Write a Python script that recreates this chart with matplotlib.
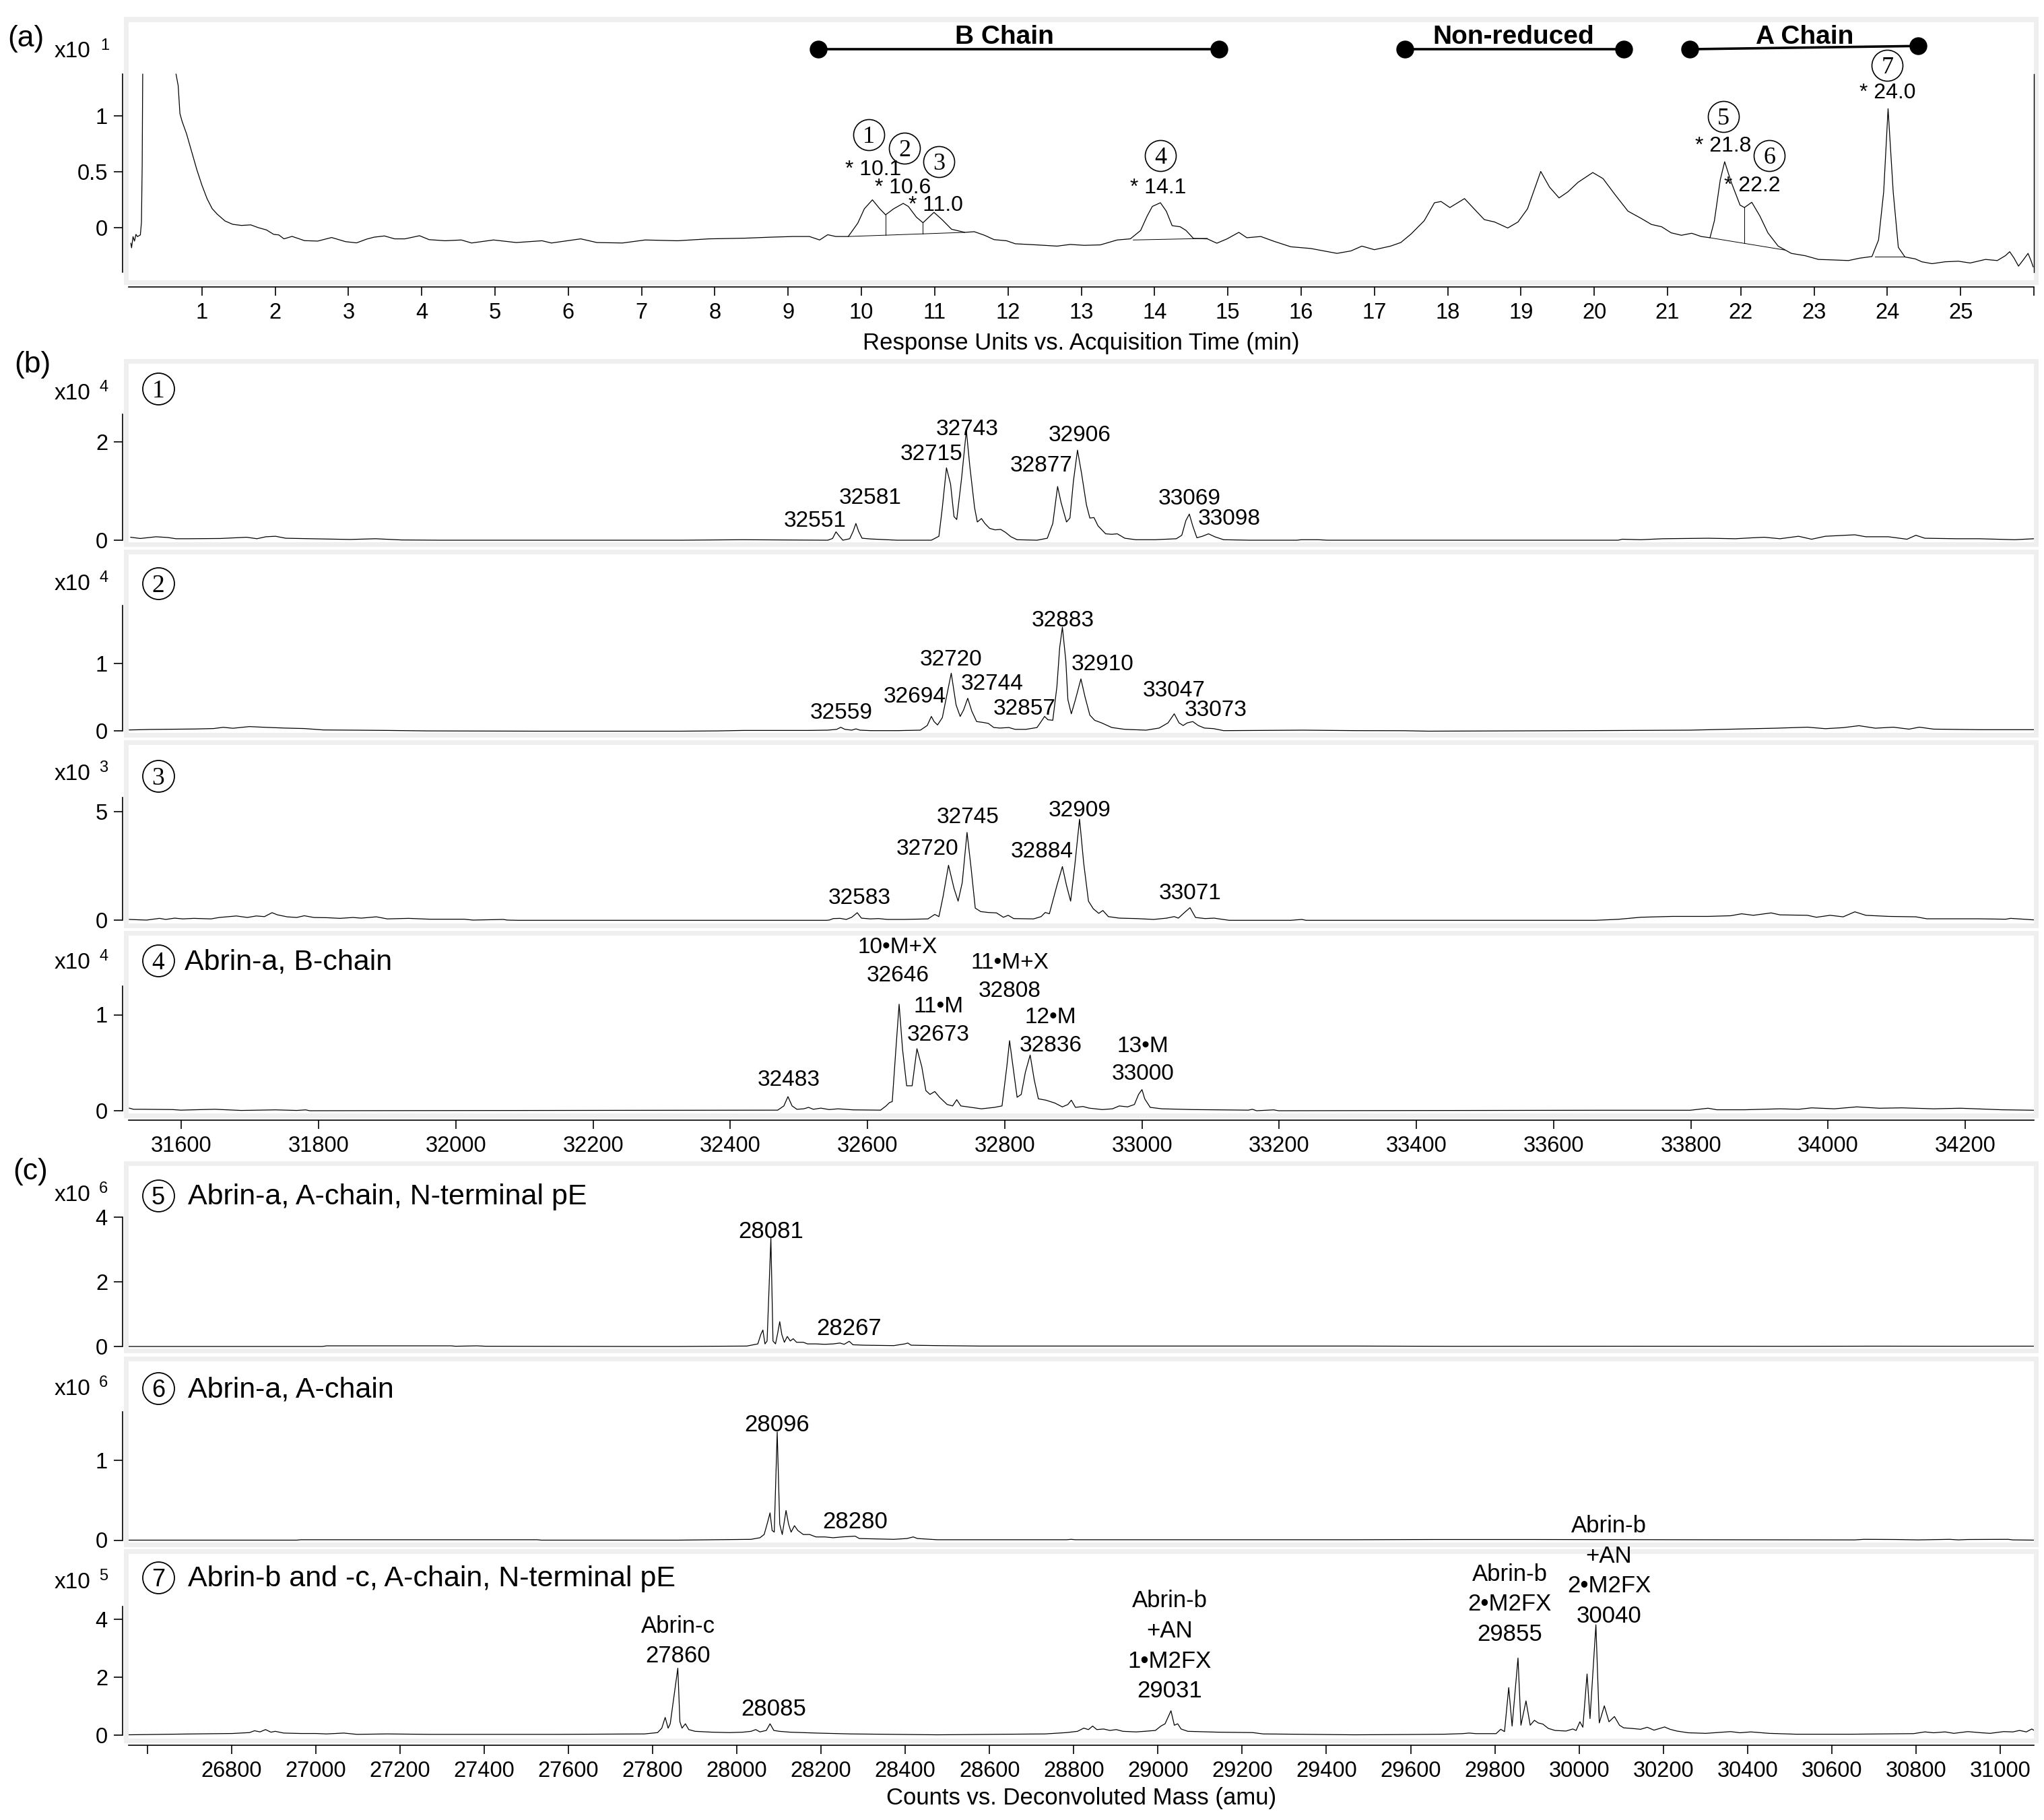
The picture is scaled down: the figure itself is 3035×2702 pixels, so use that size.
import numpy as np
import matplotlib.pyplot as plt
from matplotlib.patches import Rectangle
from matplotlib.lines import Line2D

plt.rcParams['font.family'] = ['Liberation Sans', 'DejaVu Sans']

# ---------------- values ----------------
# (a) chromatogram: (acquisition time [min], response [x10^1]); the solvent front is cut at the display top
CHROM_TOP = 1.373
CHROM = [(0.03, -0.14), (0.04, -0.18), (0.06, -0.08), (0.08, -0.12), (0.10, -0.06), (0.12, -0.08),
         (0.16, -0.065), (0.175, 0.05), (0.185, 0.56), (0.192, 1.373), (0.647, 1.373), (0.676, 1.27),
         (0.70, 1.02), (0.73, 0.95), (0.79, 0.84), (0.86, 0.68), (0.93, 0.52), (1.00, 0.38),
         (1.07, 0.26), (1.14, 0.17), (1.21, 0.12), (1.315, 0.06), (1.42, 0.03), (1.54, 0.02),
         (1.667, 0.025), (1.77, 0.0), (1.88, -0.02), (1.98, -0.06), (2.05, -0.065), (2.12, -0.10),
         (2.23, -0.078), (2.40, -0.116), (2.58, -0.12), (2.77, -0.088), (2.96, -0.125), (3.11, -0.136),
         (3.25, -0.102), (3.35, -0.085), (3.49, -0.074), (3.63, -0.10), (3.77, -0.10), (3.97, -0.072),
         (4.10, -0.107), (4.32, -0.117), (4.54, -0.11), (4.68, -0.137), (4.98, -0.11), (5.29, -0.133),
         (5.64, -0.117), (5.77, -0.137), (6.17, -0.10), (6.39, -0.133), (6.74, -0.137), (7.05, -0.11),
         (7.49, -0.117), (7.92, -0.10), (8.41, -0.094), (8.76, -0.085), (9.07, -0.079), (9.29, -0.079),
         (9.43, -0.11), (9.54, -0.063), (9.65, -0.079), (9.82, -0.079), (9.95, 0.04), (10.04, 0.169),
         (10.15, 0.249), (10.25, 0.169), (10.33, 0.115), (10.44, 0.169), (10.57, 0.217), (10.64, 0.19),
         (10.75, 0.094), (10.84, 0.044), (10.99, 0.137), (11.10, 0.072), (11.23, -0.014), (11.41, -0.042),
         (11.54, -0.036), (11.68, -0.068), (11.81, -0.107), (11.98, -0.117), (12.10, -0.144), (12.39, -0.154),
         (12.67, -0.165), (12.85, -0.15), (13.04, -0.158), (13.26, -0.154), (13.49, -0.11), (13.67, -0.10),
         (13.81, -0.025), (13.90, 0.105), (13.97, 0.19), (14.08, 0.223), (14.16, 0.148), (14.24, 0.018),
         (14.35, 0.008), (14.43, -0.025), (14.53, -0.096), (14.72, -0.10), (14.85, -0.139), (14.99, -0.10),
         (15.15, -0.042), (15.26, -0.09), (15.45, -0.079), (15.63, -0.122), (15.86, -0.171), (16.13, -0.186),
         (16.31, -0.208), (16.49, -0.23), (16.68, -0.208), (16.83, -0.165), (17.00, -0.197), (17.22, -0.165),
         (17.36, -0.133), (17.50, -0.057), (17.68, 0.062), (17.82, 0.223), (17.91, 0.234), (18.03, 0.18),
         (18.23, 0.26), (18.36, 0.169), (18.50, 0.072), (18.64, 0.051), (18.82, -0.003), (18.96, 0.051),
         (19.09, 0.169), (19.27, 0.503), (19.39, 0.363), (19.52, 0.266), (19.64, 0.32), (19.78, 0.406),
         (19.98, 0.493), (20.12, 0.439), (20.28, 0.299), (20.46, 0.148), (20.64, 0.083), (20.78, 0.029),
         (20.92, 0.008), (21.05, -0.046), (21.19, -0.068), (21.33, -0.05), (21.46, -0.079), (21.58, -0.09),
         (21.64, 0.062), (21.72, 0.428), (21.78, 0.59), (21.87, 0.406), (21.99, 0.202), (22.05, 0.18),
         (22.15, 0.227), (22.26, 0.105), (22.37, -0.046), (22.51, -0.165), (22.69, -0.23), (22.88, -0.251),
         (23.06, -0.284), (23.24, -0.288), (23.47, -0.294), (23.62, -0.273), (23.79, -0.258), (23.88, -0.11),
         (23.95, 0.32), (24.01, 1.064), (24.08, 0.32), (24.15, -0.176), (24.24, -0.262), (24.38, -0.279),
         (24.47, -0.305), (24.61, -0.322), (24.79, -0.305), (24.97, -0.30), (25.13, -0.316), (25.34, -0.284),
         (25.50, -0.294), (25.61, -0.251), (25.67, -0.215), (25.73, -0.273), (25.79, -0.344), (25.86, -0.284),
         (25.92, -0.23), (25.96, -0.294), (25.99, -0.35)]

# integration baselines and drop lines under the picked peaks
CHROM_BASELINES = [((9.82, -0.079), (11.41, -0.042)), ((10.33, -0.067), (10.33, 0.115)),
                   ((10.84, -0.055), (10.84, 0.044)), ((13.71, -0.11), (14.72, -0.096)),
                   ((21.58, -0.09), (22.60, -0.20)), ((22.05, -0.14), (22.05, 0.18)),
                   ((23.83, -0.262), (24.24, -0.262))]

# picked peaks: (number, circle x, circle y, retention label, label x, label y)
CHROM_PEAKS = [('1', 10.10, 0.83, '* 10.1', 10.16, 0.52), ('2', 10.59, 0.71, '* 10.6', 10.57, 0.355),
               ('3', 11.06, 0.59, '* 11.0', 11.01, 0.20), ('4', 14.08, 0.645, '* 14.1', 14.05, 0.355),
               ('5', 21.76, 0.995, '* 21.8', 21.76, 0.73), ('6', 22.39, 0.645, '* 22.2', 22.16, 0.375),
               ('7', 24.00, 1.452, '* 24.0', 24.00, 1.205)]

# collected fractions: (label, x start, y start, x end, y end, label x)
FRACTIONS = [('B Chain', 9.41, 1.596, 14.88, 1.596, 11.95),
             ('Non-reduced', 17.42, 1.596, 20.40, 1.596, 18.90),
             ('A Chain', 21.30, 1.596, 24.42, 1.625, 22.87)]

# (b) deconvoluted spectra of the B-chain fractions: (mass [amu], counts)
B1 = [(31526, 0.06), (31540, 0.035), (31563, 0.07), (31580, 0.055), (31592, 0.03), (31610, 0.03),
      (31657, 0.035), (31695, 0.06), (31710, 0.03), (31723, 0.07), (31737, 0.08), (31752, 0.04),
      (31789, 0.03), (31846, 0.015), (31883, 0.03), (31921, 0.005), (31977, 0.0),
      (32329, 0.0), (32417, 0.01), (32542, 0.0), (32549, 0.035), (32554, 0.17), (32559, 0.08),
      (32564, 0.0), (32574, 0.03), (32579, 0.18), (32583, 0.34), (32587, 0.18), (32592, 0.04),
      (32605, 0.025), (32643, 0.0), (32671, 0.0), (32693, 0.0), (32704, 0.08), (32709, 0.66),
      (32715, 1.47), (32721, 1.14), (32726, 0.48), (32730, 0.42), (32737, 1.25), (32744, 2.23),
      (32749, 1.51), (32756, 0.66), (32760, 0.37), (32766, 0.44), (32771, 0.34), (32778, 0.24),
      (32786, 0.21), (32794, 0.22), (32801, 0.16), (32809, 0.07), (32818, 0.01), (32847, 0.0),
      (32862, 0.04), (32870, 0.34), (32877, 1.09), (32882, 0.77), (32890, 0.37), (32895, 0.45),
      (32900, 1.19), (32906, 1.83), (32912, 1.35), (32919, 0.72), (32924, 0.45), (32930, 0.46),
      (32936, 0.29), (32947, 0.13), (32956, 0.12), (32964, 0.13), (32975, 0.04), (32991, 0.01),
      (33019, 0.01), (33050, 0.03), (33058, 0.10), (33064, 0.40), (33069, 0.53), (33074, 0.29),
      (33080, 0.05), (33088, 0.08), (33097, 0.13), (33106, 0.07), (33119, 0.01), (33157, 0.0),
      (33226, 0.0), (33232, 0.01), (33257, 0.01), (33270, 0.0), (33313, 0.0),
      (33694, 0.0), (33700, 0.02), (33727, 0.01), (33759, 0.03), (33825, 0.04), (33865, 0.03),
      (33891, 0.05), (33907, 0.06), (33930, 0.03), (33957, 0.08), (33976, 0.02), (33996, 0.08),
      (34039, 0.11), (34055, 0.07), (34088, 0.07), (34115, 0.02), (34128, 0.10), (34141, 0.04),
      (34187, 0.03), (34220, 0.03), (34272, 0.01), (34300, 0.03)]

B2 = [(31524, 0.018), (31553, 0.025), (31590, 0.029), (31619, 0.032), (31647, 0.039), (31661, 0.057),
      (31675, 0.043), (31699, 0.068), (31722, 0.057), (31750, 0.046), (31779, 0.039), (31807, 0.018),
      (31864, 0.014), (31901, 0.011), (31958, 0.004), (32118, 0.0), (32329, 0.0), (32382, 0.004),
      (32419, 0.011), (32514, 0.011), (32542, 0.015), (32555, 0.027), (32561, 0.057), (32567, 0.027),
      (32577, 0.015), (32583, 0.034), (32589, 0.015), (32605, 0.008), (32643, 0.008), (32677, 0.015),
      (32687, 0.084), (32693, 0.218), (32697, 0.142), (32702, 0.092), (32709, 0.2), (32715, 0.506),
      (32722, 0.858), (32729, 0.39), (32735, 0.218), (32740, 0.314), (32746, 0.487), (32752, 0.295),
      (32759, 0.142), (32768, 0.13), (32776, 0.115), (32784, 0.054), (32793, 0.046), (32806, 0.054),
      (32815, 0.027), (32831, 0.027), (32847, 0.054), (32853, 0.142), (32858, 0.218), (32863, 0.169),
      (32870, 0.161), (32876, 0.66), (32880, 1.234), (32884, 1.54), (32889, 1.04), (32892, 0.467),
      (32897, 0.257), (32903, 0.467), (32911, 0.774), (32917, 0.506), (32924, 0.238), (32931, 0.161),
      (32941, 0.123), (32956, 0.054), (32975, 0.027), (33006, 0.015), (33025, 0.046), (33038, 0.123),
      (33047, 0.257), (33054, 0.123), (33060, 0.084), (33066, 0.123), (33074, 0.142), (33082, 0.084),
      (33091, 0.046), (33104, 0.038), (33119, 0.008), (33235, 0.015), (33313, 0.008),
      (33381, 0.007), (33417, 0.0), (33628, 0.007), (33799, 0.015), (33891, 0.037), (33924, 0.044),
      (33970, 0.059), (33996, 0.037), (34022, 0.052), (34045, 0.081), (34069, 0.044), (34095, 0.059),
      (34118, 0.03), (34133, 0.059), (34154, 0.03), (34220, 0.022), (34300, 0.022)]

B3 = [(31524, 0.04), (31549, 0.01), (31568, 0.09), (31577, 0.04), (31590, 0.10), (31602, 0.065),
      (31618, 0.09), (31643, 0.065), (31655, 0.13), (31680, 0.20), (31696, 0.13), (31709, 0.20),
      (31721, 0.17), (31732, 0.35), (31740, 0.25), (31754, 0.16), (31768, 0.13), (31779, 0.21),
      (31793, 0.13), (31812, 0.12), (31831, 0.09), (31850, 0.13), (31862, 0.10), (31884, 0.16),
      (31900, 0.065), (31931, 0.09), (31962, 0.05), (32012, 0.05), (32025, 0.01), (32069, 0.04),
      (32075, 0.01), (32090, 0.0), (32540, 0.0), (32544, 0.01), (32550, 0.08), (32560, 0.09),
      (32569, 0.04), (32577, 0.14), (32585, 0.35), (32591, 0.10), (32604, 0.065), (32616, 0.08),
      (32629, 0.04), (32654, 0.04), (32688, 0.065), (32698, 0.27), (32704, 0.17), (32710, 1.08),
      (32718, 2.53), (32726, 1.47), (32732, 0.88), (32738, 1.73), (32745, 4.04), (32751, 2.38),
      (32757, 0.56), (32765, 0.40), (32776, 0.36), (32788, 0.34), (32798, 0.14), (32805, 0.23),
      (32813, 0.08), (32842, 0.065), (32853, 0.17), (32859, 0.36), (32865, 0.30), (32876, 1.6),
      (32884, 2.47), (32890, 1.6), (32896, 0.88), (32902, 2.5), (32909, 4.65), (32915, 2.64),
      (32922, 0.88), (32929, 0.53), (32937, 0.32), (32943, 0.45), (32951, 0.17), (32967, 0.10),
      (32992, 0.08), (33017, 0.04), (33036, 0.10), (33047, 0.17), (33053, 0.10), (33062, 0.36),
      (33070, 0.58), (33078, 0.13), (33092, 0.08), (33105, 0.10), (33127, 0.0), (33217, 0.0),
      (33233, 0.04), (33239, 0.0), (33661, 0.0), (33694, 0.046), (33727, 0.14), (33773, 0.18),
      (33825, 0.18), (33858, 0.21), (33874, 0.30), (33891, 0.23), (33917, 0.34), (33930, 0.25),
      (33970, 0.23), (33983, 0.14), (34003, 0.23), (34022, 0.16), (34039, 0.39), (34055, 0.23),
      (34088, 0.18), (34128, 0.16), (34144, 0.07), (34220, 0.07), (34259, 0.05), (34266, 0.09),
      (34300, 0.02)]

B4 = [(31524, 0.027), (31530, 0.015), (31543, 0.015), (31587, 0.012), (31599, 0.006), (31630, 0.012),
      (31649, 0.015), (31668, 0.009), (31687, 0.003), (31737, 0.009), (31768, 0.003), (31781, 0.009),
      (31787, 0.0), (32469, 0.006), (32478, 0.05), (32484, 0.147), (32490, 0.05), (32497, 0.015),
      (32507, 0.02), (32514, 0.035), (32521, 0.015), (32532, 0.027), (32544, 0.012), (32557, 0.02),
      (32579, 0.009), (32619, 0.006), (32627, 0.05), (32632, 0.085), (32636, 0.095), (32641, 0.61),
      (32646, 1.11), (32651, 0.64), (32657, 0.26), (32665, 0.26), (32672, 0.646), (32679, 0.46),
      (32685, 0.21), (32691, 0.17), (32698, 0.20), (32705, 0.14), (32716, 0.065), (32724, 0.05),
      (32730, 0.115), (32736, 0.05), (32751, 0.035), (32766, 0.02), (32785, 0.035), (32796, 0.05),
      (32803, 0.46), (32807, 0.73), (32812, 0.46), (32818, 0.14), (32824, 0.17), (32830, 0.40),
      (32837, 0.58), (32843, 0.32), (32849, 0.124), (32860, 0.11), (32873, 0.08), (32884, 0.04),
      (32892, 0.065), (32897, 0.11), (32903, 0.035), (32914, 0.044), (32923, 0.027), (32942, 0.012),
      (32957, 0.02), (32967, 0.05), (32979, 0.04), (32989, 0.065), (32995, 0.17), (33000, 0.22),
      (33004, 0.124), (33012, 0.035), (33029, 0.02), (33073, 0.012), (33155, 0.006), (33161, 0.015),
      (33167, 0.0), (33192, 0.009), (33199, 0.0), (33674, 0.005), (33799, 0.005), (33825, 0.026),
      (33838, 0.01), (33878, 0.01), (33930, 0.02), (33957, 0.015), (33976, 0.03), (34009, 0.02),
      (34042, 0.04), (34075, 0.026), (34108, 0.03), (34154, 0.02), (34193, 0.026), (34253, 0.01),
      (34300, 0.005)]

# (c) deconvoluted spectra of the A-chain fractions
C5 = [(26556, 0.0), (27016, 0.0), (27026, 0.02), (27322, 0.02), (27332, 0.007), (27383, 0.02),
      (27404, 0.007), (27781, 0.0), (27860, 0.0), (28024, 0.013), (28050, 0.08), (28057, 0.37),
      (28062, 0.51), (28067, 0.08), (28072, 0.17), (28081, 3.35), (28086, 0.17), (28092, 0.08),
      (28097, 0.40), (28102, 0.77), (28107, 0.37), (28113, 0.13), (28120, 0.31), (28127, 0.17),
      (28134, 0.24), (28142, 0.13), (28158, 0.13), (28168, 0.08), (28188, 0.08), (28209, 0.067),
      (28229, 0.08), (28245, 0.107), (28255, 0.067), (28267, 0.16), (28276, 0.053), (28301, 0.04),
      (28373, 0.027), (28399, 0.08), (28406, 0.107), (28414, 0.04), (28476, 0.027), (28578, 0.013),
      (28968, 0.013), (29469, 0.013), (29700, 0.005), (30100, 0.008), (30500, 0.005), (30700, 0.01),
      (30900, 0.008), (31080, 0.01)]

C6 = [(26556, 0.0), (26955, 0.0), (26965, 0.005), (27322, 0.005), (27526, 0.005), (27536, 0.0),
      (27781, 0.0), (27860, 0.0), (28034, 0.01), (28055, 0.03), (28065, 0.07), (28072, 0.20),
      (28079, 0.34), (28084, 0.12), (28089, 0.10), (28096, 1.35), (28102, 0.20), (28108, 0.07),
      (28117, 0.37), (28123, 0.20), (28129, 0.10), (28137, 0.18), (28145, 0.12), (28158, 0.07),
      (28173, 0.07), (28188, 0.04), (28209, 0.04), (28229, 0.03), (28250, 0.04), (28281, 0.05),
      (28291, 0.02), (28373, 0.01), (28404, 0.02), (28419, 0.04), (28429, 0.02), (28476, 0.005),
      (28783, 0.005), (28794, 0.01), (28804, 0.005), (29466, 0.005), (29657, 0.008), (29882, 0.008),
      (30253, 0.005), (30655, 0.003), (30676, 0.01), (30751, 0.008), (30805, 0.003), (30880, 0.01),
      (30901, 0.003), (30923, 0.008), (31019, 0.01), (31030, 0.003), (31080, 0.0)]

C7 = [(26557, 0.0), (26710, 0.03), (26802, 0.045), (26843, 0.076), (26855, 0.14), (26868, 0.10),
      (26881, 0.18), (26894, 0.09), (26904, 0.12), (26924, 0.06), (26965, 0.045), (27001, 0.045),
      (27026, 0.03), (27067, 0.06), (27098, 0.015), (27169, 0.03), (27271, 0.015), (27577, 0.015),
      (27781, 0.03), (27812, 0.076), (27822, 0.23), (27830, 0.60), (27837, 0.23), (27842, 0.38),
      (27860, 2.3), (27865, 0.45), (27870, 0.23), (27878, 0.38), (27886, 0.18), (27901, 0.12),
      (27942, 0.09), (27983, 0.076), (28014, 0.09), (28034, 0.12), (28045, 0.18), (28055, 0.10),
      (28070, 0.15), (28079, 0.38), (28088, 0.15), (28101, 0.12), (28127, 0.09), (28188, 0.06),
      (28270, 0.03), (28476, 0.0), (28732, 0.03), (28783, 0.076), (28809, 0.12), (28824, 0.23),
      (28835, 0.18), (28845, 0.30), (28855, 0.18), (28871, 0.20), (28886, 0.15), (28901, 0.18),
      (28917, 0.12), (28948, 0.10), (28968, 0.12), (28994, 0.15), (29007, 0.30), (29017, 0.38),
      (29031, 0.83), (29039, 0.33), (29047, 0.38), (29055, 0.20), (29071, 0.12), (29143, 0.09),
      (29225, 0.076), (29250, 0.03), (29466, 0.0), (29595, 0.01), (29680, 0.02), (29723, 0.04),
      (29739, 0.06), (29755, 0.04), (29803, 0.04), (29814, 0.19), (29823, 0.11), (29833, 1.63),
      (29841, 0.30), (29855, 2.65), (29862, 0.33), (29874, 1.17), (29884, 0.33), (29894, 0.50),
      (29903, 0.41), (29914, 0.37), (29927, 0.22), (29943, 0.15), (29969, 0.13), (29985, 0.20),
      (29993, 0.15), (30002, 0.45), (30009, 0.26), (30019, 2.1), (30026, 0.56), (30040, 3.8),
      (30048, 0.41), (30060, 1.0), (30071, 0.45), (30084, 0.63), (30096, 0.33), (30106, 0.24),
      (30125, 0.22), (30146, 0.19), (30162, 0.26), (30178, 0.16), (30203, 0.27), (30216, 0.19),
      (30232, 0.13), (30259, 0.07), (30301, 0.05), (30360, 0.11), (30382, 0.07), (30408, 0.10),
      (30451, 0.05), (30516, 0.02), (30644, 0.02), (30794, 0.04), (30821, 0.10), (30842, 0.07),
      (30869, 0.10), (30890, 0.05), (30923, 0.11), (30955, 0.07), (30976, 0.05), (31008, 0.11),
      (31030, 0.10), (31046, 0.15), (31062, 0.10), (31075, 0.20), (31083, 0.13)]

# peak annotations: (x, baseline y, text)
B1_LABELS = [(32523, 0.28, '32551'), (32604, 0.74, '32581'), (32693, 1.63, '32715'), (32745, 2.13, '32743'),
             (32853, 1.39, '32877'), (32909, 2.01, '32906'), (33069, 0.73, '33069'), (33127, 0.32, '33098')]
B2_LABELS = [(32562, 0.18, '32559'), (32669, 0.42, '32694'), (32722, 0.97, '32720'), (32782, 0.61, '32744'),
             (32829, 0.24, '32857'), (32885, 1.55, '32883'), (32942, 0.90, '32910'), (33047, 0.51, '33047'),
             (33107, 0.22, '33073')]
B3_LABELS = [(32588, 0.75, '32583'), (32687, 3.0, '32720'), (32746, 4.48, '32745'), (32854, 2.9, '32884'),
             (32909, 4.78, '32909'), (33070, 0.97, '33071')]
B4_LABELS = [(32485, 0.257, '32483'), (32644, 1.348, '10•M+X\n32646'), (32703, 0.73, '11•M\n32673'),
             (32807, 1.186, '11•M+X\n32808'), (32867, 0.617, '12•M\n32836'), (33001, 0.32, '13•M\n33000')]
C5_LABELS = [(28081, 3.37, '28081'), (28267, 0.37, '28267')]
C6_LABELS = [(28096, 1.36, '28096'), (28281, 0.15, '28280')]
C7_LABELS = [(27861, 2.5, 'Abrin-c\n27860'), (28088, 0.68, '28085'),
             (29028, 1.29, 'Abrin-b\n+AN\n1•M2FX\n29031'), (29835, 3.25, 'Abrin-b\n2•M2FX\n29855'),
             (30071, 3.88, 'Abrin-b\n+AN\n2•M2FX\n30040')]

# ---------------- layout (pixels of the 3035 x 2702 canvas) ----------------
W, H = 3035, 2702
XL, XR = 191, 3020
PT = 0.72            # points per pixel at 100 dpi
GRAY = '#efefef'

fig = plt.figure(figsize=(W / 100, H / 100), dpi=100)


def fx(px):
    return px / W


def fy(py):
    return 1 - py / H


def panel(top, bottom, zero, ppu, xlim, spine, yticks, yticklabels, xticks=None, xticklabels=None):
    ax = fig.add_axes([fx(XL), fy(bottom), (XR - XL) / W, (bottom - top) / H])
    fig.add_artist(Rectangle((fx(XL - 7), fy(bottom + 7)), (XR - XL + 14) / W, (bottom - top + 14) / H,
                             transform=fig.transFigure, facecolor=GRAY, edgecolor='none', zorder=-1))
    ax.set_xlim(*xlim)
    ax.set_ylim((zero - bottom) / ppu, (zero - top) / ppu)
    for side in ('top', 'right', 'bottom'):
        ax.spines[side].set_visible(False)
    ax.spines['left'].set_position(('outward', 9 * PT))
    ax.spines['left'].set_bounds(*spine)
    ax.spines['left'].set_linewidth(1.2)
    ax.set_yticks(yticks)
    ax.set_yticklabels(yticklabels)
    ax.tick_params(axis='y', length=13 * PT, width=1.2, pad=9 * PT, labelsize=23.5)
    if xticks is None:
        ax.set_xticks([])
    else:
        ax.spines['bottom'].set_visible(True)
        ax.spines['bottom'].set_position(('outward', 10 * PT))
        ax.spines['bottom'].set_linewidth(1.2)
        ax.set_xticks(xticks)
        ax.set_xticklabels(xticklabels)
        ax.tick_params(axis='x', length=13 * PT, width=1.2, pad=10 * PT, labelsize=23.5)
    return ax


def header(circle_y, x10_y, num, exp, title=None, serif=True, title_x=276):
    fig.add_artist(Line2D([fx(235)], [fy(circle_y)], marker='o', ms=47 * PT, mfc='none', mec='black',
                          mew=1.3, transform=fig.transFigure))
    if serif:
        fig.text(fx(235), fy(circle_y + 0.338 * 27 / PT), num, ha='center', va='baseline',
                 fontsize=27, family='Liberation Serif')
    else:
        fig.text(fx(235), fy(circle_y + 0.358 * 26 / PT), num, ha='center', va='baseline', fontsize=26)
    if title:
        fig.text(fx(title_x), fy(circle_y + 13), title, ha='left', va='baseline', fontsize=31)
    fig.text(fx(134), fy(x10_y), 'x10', ha='right', va='baseline', fontsize=24)
    fig.text(fx(147), fy(x10_y - 12), exp, ha='left', va='baseline', fontsize=17)


def trace(ax, pts, top=None):
    x, y = np.array(pts, dtype=float).T
    if top is not None:
        # leave the stretch above the display ceiling undrawn
        cut = np.where((y[:-1] >= top) & (y[1:] >= top))[0] + 1
        x, y = np.insert(x, cut, np.nan), np.insert(y, cut, np.nan)
    ax.plot(x, y, color='black', lw=0.9)


def labels(ax, items, size):
    for x, y, s in items:
        ax.annotate(s, xy=(x, y), xytext=(0, -0.21 * size), textcoords='offset points', ha='center',
                    va='bottom', fontsize=size, linespacing=1.45, annotation_clip=False, zorder=5)


# ---------------- (a) chromatogram ----------------
ax = panel(32.5, 416, 338, 166, (0, 26.0), (-0.398, CHROM_TOP), [0, 0.5, 1], ['0', '0.5', '1'],
           list(range(1, 27)), [str(i) for i in range(1, 26)] + [''])
ax.spines['right'].set_visible(True)
ax.spines['right'].set_bounds(-0.398, CHROM_TOP)
ax.spines['right'].set_linewidth(1.0)
trace(ax, CHROM, top=CHROM_TOP)
for (x0, y0), (x1, y1) in CHROM_BASELINES:
    ax.plot([x0, x1], [y0, y1], color='black', lw=0.7)
for num, cx, cy, rt, tx, ty in CHROM_PEAKS:
    ax.plot([cx], [cy], marker='o', ms=46 * PT, mfc='none', mec='black', mew=1.2, clip_on=False)
    ax.annotate(num, xy=(cx, cy), xytext=(0, -0.338 * 26), textcoords='offset points', ha='center',
                va='baseline', fontsize=26, family='Liberation Serif')
    ax.text(tx, ty, rt, ha='center', va='center', fontsize=23)
for name, x0, y0, x1, y1, tx in FRACTIONS:
    ax.plot([x0, x1], [y0, y1], color='black', lw=2.6, marker='o', ms=18, solid_capstyle='butt')
    ax.text(tx, 1.645, name, ha='center', va='baseline', fontsize=28, fontweight='bold')
fig.text(fx(11), fy(69), '(a)', ha='left', va='baseline', fontsize=32)
fig.text(fx(134), fy(85), 'x10', ha='right', va='baseline', fontsize=24)
fig.text(fx(149), fy(74), '1', ha='left', va='baseline', fontsize=17)
fig.text(fx((XL + XR) / 2), fy(519), 'Response Units vs. Acquisition Time (min)', ha='center',
         va='baseline', fontsize=25)

# ---------------- (b) B-chain fractions ----------------
BXLIM = (31523, 34300)
ax = panel(540, 804.5, 802, 73.1, BXLIM, (0, 2.555), [0, 2], ['0', '2'])
trace(ax, B1)
labels(ax, B1_LABELS, 24)
header(577, 593, '1', '4')

ax = panel(823, 1088, 1085.5, 100.3, BXLIM, (0, 1.855), [0, 1], ['0', '1'])
trace(ax, B2)
labels(ax, B2_LABELS, 24)
header(866, 876, '2', '4')

ax = panel(1105.5, 1370.5, 1366.3, 32.3, BXLIM, (0, 5.65), [0, 5], ['0', '5'])
trace(ax, B3)
labels(ax, B3_LABELS, 24)
header(1152, 1158, '3', '3')

ax = panel(1388.5, 1652.5, 1649, 142.5, BXLIM, (0, 1.30), [0, 1], ['0', '1'],
           list(range(31600, 34201, 200)), [str(v) for v in range(31600, 34201, 200)])
trace(ax, B4)
labels(ax, B4_LABELS, 24)
header(1426, 1438, '4', '4', 'Abrin-a, B-chain', title_x=274)
fig.text(fx(21), fy(553), '(b)', ha='left', va='baseline', fontsize=32)

# ---------------- (c) A-chain fractions ----------------
CXLIM = (26556, 31080)
ax = panel(1731, 2002, 1999, 47.9, CXLIM, (0, 4.0), [0, 2, 4], ['0', '2', '4'])
trace(ax, C5)
labels(ax, C5_LABELS, 25)
header(1775, 1783, '5', '6', 'Abrin-a, A-chain, N-terminal pE', serif=False, title_x=279)

ax = panel(2021, 2290, 2286.5, 119, CXLIM, (0, 1.60), [0, 1], ['0', '1'])
trace(ax, C6)
labels(ax, C6_LABELS, 25)
header(2061, 2071, '6', '6', 'Abrin-a, A-chain', serif=False, title_x=279)

ax = panel(2307, 2581, 2575.5, 43, CXLIM, (0, 4.43), [0, 2, 4], ['0', '2', '4'],
           list(range(26600, 31001, 200)), [''] + [str(v) for v in range(26800, 31001, 200)])
trace(ax, C7)
labels(ax, C7_LABELS, 25)
header(2342, 2358, '7', '5', 'Abrin-b and -c, A-chain, N-terminal pE', serif=False, title_x=279)
fig.text(fx(19), fy(1751), '(c)', ha='left', va='baseline', fontsize=32)
fig.text(fx((XL + XR) / 2), fy(2679), 'Counts vs. Deconvoluted Mass (amu)', ha='center',
         va='baseline', fontsize=25)

fig.savefig('out.png', dpi=100, facecolor='white')
